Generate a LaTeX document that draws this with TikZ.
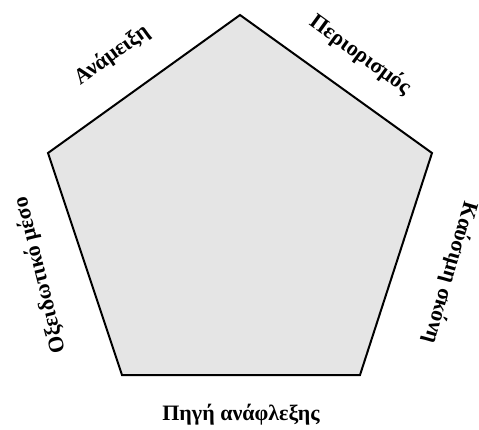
\documentclass[tikz,border=0pt]{standalone}
\usepackage{fontspec}
\setmainfont{Liberation Serif}
\begin{document}
\begin{tikzpicture}[x=1pt,y=-1pt,
  lab/.style={font=\bfseries\fontsize{22}{24}\selectfont, inner sep=0pt},
  penta/.style={draw=black, line width=2pt, fill=black!10, line join=miter}]
\useasboundingbox (0,0) rectangle (479,429);
\coordinate (A) at (240,15);
\coordinate (B) at (432,153);
\coordinate (C) at (360,375);
\coordinate (D) at (122,375);
\coordinate (E) at (48,153);
\draw[penta] (A)--(B)--(C)--(D)--(E)--cycle;
\node[lab, rotate=36] (mix) at (112,55) {Ανάμειξη};
\node[lab, rotate=-36] (conf) at (360,55) {Περιορισμός};
\node[lab, rotate=-106] (fuel) at (450,273) {Καύσιμη σκόνη};
\node[lab, rotate=104] (oxid) at (40,275) {Οξειδωτικό μέσο};
\node[lab] (ign) at (241,415) {Πηγή ανάφλεξης};
\end{tikzpicture}
\end{document}
